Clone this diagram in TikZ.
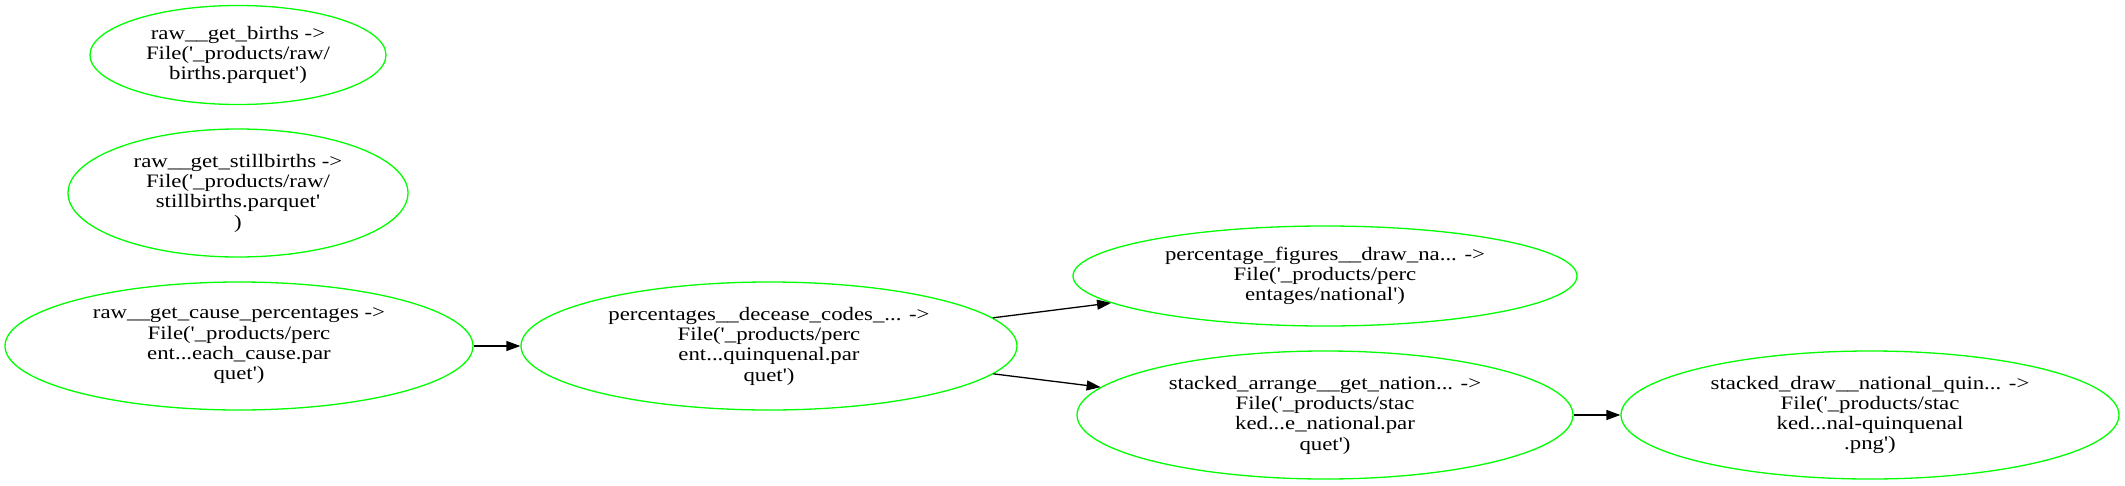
\documentclass[tikz,border=0pt]{standalone}
\usepackage{fontspec}
\newfontfamily\gvfont[FakeStretch=1.2]{Liberation Serif}
\usetikzlibrary{shapes.geometric,arrows.meta}
\definecolor{gvgreen}{RGB}{0,255,0}
\begin{document}
\begin{tikzpicture}[x=1pt,y=-1pt,
  task/.style={ellipse, draw=gvgreen, line width=1.3pt, inner sep=0pt, align=center,
    font=\gvfont\fontsize{19}{20.3}\selectfont},
  link/.style={-{Triangle[length=14pt,width=10pt]}, line width=1.3pt, draw=black}]
\useasboundingbox (0,0) rectangle (2125,485);

\node[task, minimum width=296pt, minimum height=99pt] (births) at (238,55)
  {raw\_\_get\_births ->\\File('\_products/raw/\\births.parquet')};
\node[task, minimum width=340pt, minimum height=128pt] (still) at (238,193)
  {raw\_\_get\_stillbirths ->\\File('\_products/raw/\\stillbirths.parquet'\\)};
\node[task, minimum width=468pt, minimum height=128pt] (cause) at (239,346)
  {raw\_\_get\_cause\_percentages ->\\File('\_products/perc\\ent...each\_cause.par\\quet')};
\node[task, minimum width=496pt, minimum height=128pt] (codes) at (769,346)
  {percentages\_\_decease\_codes\_... ->\\File('\_products/perc\\ent...quinquenal.par\\quet')};
\node[task, minimum width=504pt, minimum height=100pt] (figs) at (1325,276)
  {percentage\_figures\_\_draw\_na... ->\\File('\_products/perc\\entages/national')};
\node[task, minimum width=496pt, minimum height=128pt] (arrange) at (1325,415)
  {stacked\_arrange\_\_get\_nation... ->\\File('\_products/stac\\ked...e\_national.par\\quet')};
\node[task, minimum width=498pt, minimum height=128pt] (sdraw) at (1870,415)
  {stacked\_draw\_\_national\_quin... ->\\File('\_products/stac\\ked...nal-quinquenal\\.png')};

\draw[link] (cause) -- (codes);
\draw[link] (codes) -- (figs);
\draw[link] (codes) -- (arrange);
\draw[link] (arrange) -- (sdraw);
\end{tikzpicture}
\end{document}
